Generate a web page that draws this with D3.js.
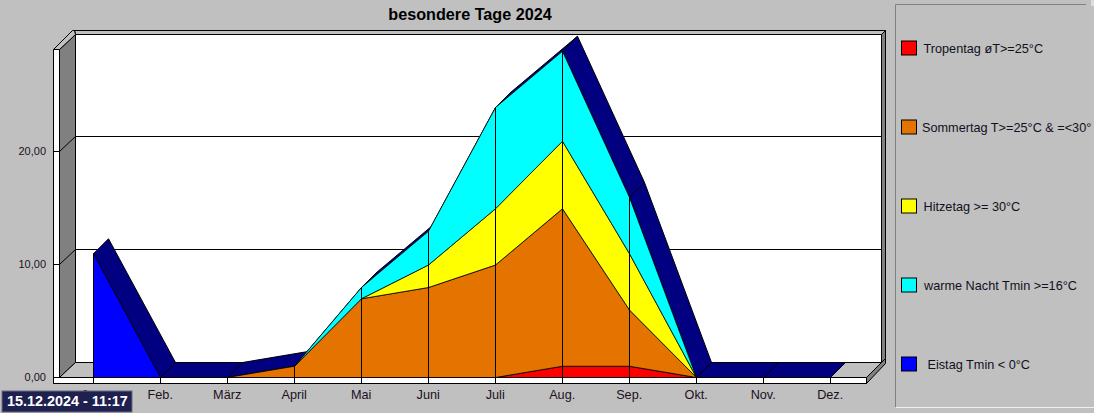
<!DOCTYPE html>
<html><head><meta charset="utf-8">
<script src="https://cdn.jsdelivr.net/npm/d3@7"></script>
<style>
html,body{margin:0;padding:0;background:#c0c0c0;overflow:hidden}
svg{display:block;font-family:"Liberation Sans",Arial,sans-serif}
</style></head><body>
<svg id="c" width="1094" height="413"></svg>
<script>
const title = "besondere Tage 2024";
const dateStamp = "15.12.2024 - 11:17";
const months = ["Jan.","Feb.","März","April","Mai","Juni","Juli","Aug.","Sep.","Okt.","Nov.","Dez."];
const yTicks = [0,10,20];
const tropentag = [0,0,0,0,0,0,0,1,1,0,0,0];
const sommertag = [0,0,0,1,7,8,10,14,5,0,0,0];
const hitzetag  = [0,0,0,0,0,2,5,6,5,0,0,0];
const warmeNacht= [0,0,0,0,1,3,9,8,5,0,0,0];
const eistag    = [11,0,0,0,0,0,0,0,0,0,0,0];
const seriesNames = ["Tropentag øT>=25°C","Sommertag T>=25°C & =<30°","Hitzetag >= 30°C","warme Nacht Tmin >=16°C","Eistag Tmin < 0°C"];
const seriesColors = ["#ff0000","#e47300","#ffff00","#00ffff","#0000ff"];
const seriesValues = [tropentag,sommertag,hitzetag,warmeNacht,eistag];

const svg = d3.select("#c");
const dx = 15, dy = -15;
const x = d3.scalePoint().domain(months).range([93.5,830.5]);
const y = d3.scaleLinear().domain([0,20]).range([377.5,151.5]);
const yMark = d3.scaleLinear().domain([0,20]).range([377.5,152.5]);
const poly = (pts,fill,stroke="#000",sw=1)=>svg.append("polygon").attr("points",pts.map(p=>p.join(",")).join(" "))
  .attr("fill",fill).attr("stroke",stroke).attr("stroke-width",sw);
const seg = (x1,y1,x2,y2,c="#000",sw=1)=>svg.append("line").attr("x1",x1).attr("y1",y1).attr("x2",x2).attr("y2",y2).attr("stroke",c).attr("stroke-width",sw);

// frame
const leftX=53.5, wallX=59.5, rightX=866.5, base=y(0), topY=49.5, strip=383.5;
const backL=75.5, backR=881.5, sideR=885.5;
poly([[backL,topY+dy],[backR,topY+dy],[backR,base+dy],[backL,base+dy]],"#fff");
poly([[wallX,topY],[backL,topY+dy],[backL,base+dy],[wallX,base]],"#808080");
poly([[wallX,base],[backL,base+dy],[backR,base+dy],[rightX,base]],"#c0c0c0");
poly([[leftX,topY],[wallX,topY],[wallX,strip],[leftX,strip]],"#fff");
poly([[leftX,base],[rightX,base],[rightX,strip],[leftX,strip]],"#fff");
poly([[rightX,base],[backR,base+dy],[sideR,base+dy-4],[sideR,base+dy+1],[rightX,strip]],"#808080");
poly([[backR,topY+dy],[sideR,topY+dy-4],[sideR,base+dy-4],[backR,base+dy]],"#808080");
poly([[backL,topY+dy],[backL-1,topY+dy-4],[sideR,topY+dy-4],[backR,topY+dy]],"#c0c0c0");
poly([[leftX,topY],[leftX+19,topY+dy-4],[backL-1,topY+dy-4],[backL,topY+dy],[wallX,topY]],"#c0c0c0");

// grid
yTicks.filter(d=>d>0).forEach(d=>{
  seg(wallX,y(d),backL,y(d)+dy);
  seg(backL,y(d)+dy,backR,y(d)+dy);
});

// axes
const gx = svg.append("g").attr("transform",`translate(0,${base})`)
  .call(d3.axisBottom(x).tickSize(6).tickPadding(6).tickSizeOuter(0));
gx.select(".domain").remove();
gx.selectAll("line").attr("stroke","#000").attr("transform","translate(-0.5,0)");
gx.selectAll("text").attr("font-size",12.7).attr("font-family","Liberation Sans").attr("fill","#201020").attr("dx",-0.8);
const gy = svg.append("g").attr("transform",`translate(${leftX},0)`)
  .call(d3.axisLeft(y).tickValues(yTicks).tickSize(0).tickPadding(7.5).tickFormat(d=>d3.format(".2f")(d).replace(".",",")));
gy.select(".domain").remove();
gy.selectAll("text").attr("font-size",11).attr("font-family","Liberation Sans").attr("fill","#201020").attr("dy","0.27em");
yTicks.forEach(d=>seg(leftX,y(d),wallX,y(d)));

// stacked data
const rows = months.map((m,i)=>{const r={m};seriesNames.forEach((n,j)=>r[n]=seriesValues[j][i]);return r;});
const stacked = d3.stack().keys(seriesNames)(rows);
const totals = months.map((m,i)=>d3.sum(seriesValues,s=>s[i]));

// top surface
d3.pairs(months.map((m,i)=>[x(m),yMark(totals[i])])).forEach(([a,b])=>{
  poly([a,[a[0]+dx,a[1]+dy],[b[0]+dx,b[1]+dy],b],"#000080","#000",1);
});

// front faces
const area = d3.area().x(d=>x(d.data.m)).y0(d=>yMark(d[0])).y1(d=>yMark(d[1]));
stacked.forEach((s,j)=>{
  const active = s.filter((d,i)=>{
    const prev=s[i-1], next=s[i+1];
    return d[1]>d[0] || (prev&&prev[1]>prev[0]) || (next&&next[1]>next[0]);
  });
  svg.append("path").attr("d",area(active)).attr("fill",seriesColors[j]).attr("stroke","#000").attr("stroke-width",0.8);
});
// month dividers on the front face
months.forEach((m,i)=>{ if(totals[i]>0) seg(x(m),yMark(totals[i]),x(m),base); });

// title
svg.append("text").attr("x",470).attr("y",19.5).attr("text-anchor","middle").attr("font-size",16.2).attr("font-weight","bold").attr("fill","#000").text(title);

// legend
const lx=895.5, ly=4.5, lb=407.5, lr=1086;
seg(lx,ly,lr,ly,"#808080");seg(lx,ly,lx,lb,"#808080");seg(lx,lb,1094,lb,"#f0f0f0");
svg.append("rect").attr("x",1091).attr("y",0).attr("width",3).attr("height",6).attr("fill","#dcdcdc");
const legY = d3.scalePoint().domain(seriesNames).range([48,364]);
const legX = [923.5,922,923.5,924,927.5];
seriesNames.forEach((n,j)=>{
  svg.append("rect").attr("x",901.5).attr("y",legY(n)-7).attr("width",15).attr("height",14).attr("fill",seriesColors[j]).attr("stroke","#000");
  svg.append("text").attr("x",legX[j]).attr("y",legY(n)+4.5).attr("font-size",12.7).attr("fill","#101020").text(n);
});

// date stamp
svg.append("rect").attr("x",2).attr("y",391).attr("width",130).attr("height",21).attr("fill","#1e2050").attr("stroke","#6a6a80");
svg.append("text").attr("x",7).attr("y",406).attr("font-size",14.4).attr("font-weight","bold").attr("fill","#fff").text(dateStamp);
</script>
</body></html>
